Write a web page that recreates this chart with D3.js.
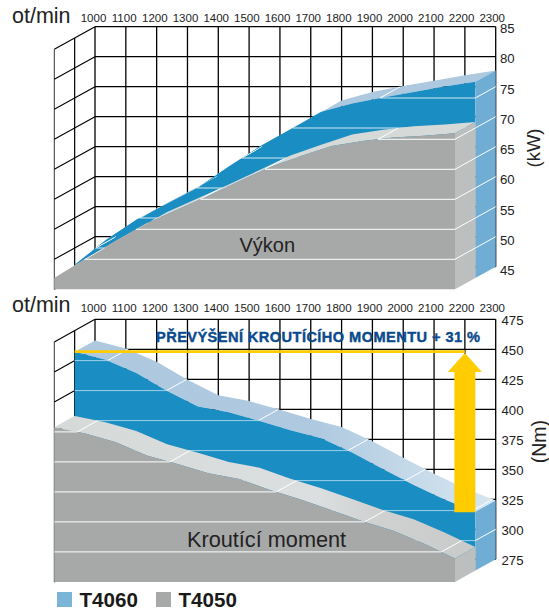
<!DOCTYPE html>
<html>
<head>
<meta charset="utf-8">
<script src="https://cdn.jsdelivr.net/npm/d3@7"></script>
<style>
html,body{margin:0;padding:0;background:#fff}
svg{display:block}
text{font-family:"Liberation Sans",Arial,sans-serif}
</style>
</head>
<body>
<div id="chart"></div>
<script>
const rpmTicks = [1000,1100,1200,1300,1400,1500,1600,1700,1800,1900,2000,2100,2200,2300];
const powerT4060 = [47.2,51.3,54.7,57.4,60.1,63.6,66.9,69.8,72.7,74.1,75.1,76,76.9,77.7];
const powerT4050 = [46.9,50.05,53.1,56,58.3,60.6,63,65.4,67.2,68.9,69.7,70.3,70.6,71];
const torqueT4060 = [457.4,450.7,439.6,424.7,411.7,406.9,399.7,391.9,385.2,373.4,359.7,346.3,334.3,324];
const torqueT4050 = [403.8,398.7,391.3,380.3,373.2,365.5,360.7,351.6,343.7,334.7,325.5,317.7,306.8,294.6];
const powerTicks = [85,80,75,70,65,60,55,50,45];
const torqueTicks = [475,450,425,400,375,350,325,300,275];
const seriesNames = ["T4060","T4050"];
const rpmTitle = "ot/min";
const powerTitle = "Výkon";
const torqueTitle = "Kroutící moment";
const powerUnit = "(kW)";
const torqueUnit = "(Nm)";
const overTorqueLabel = "PŘEVÝŠENÍ KROUTÍCÍHO MOMENTU + 31 %";

const C = {
  blue:"#1a8dc2", blueSide:"#6fadd4", blueTop:"#adc8df",
  gray:"#a7a9a9", grayTop:"#d5d9d8", graySide:"#bdbfbe",
  legendBlue:"#7ab5d8", yellow:"#ffcc00", ink:"#222", title:"#0b4a8c"
};
const DX = 20.35, DY = 11.3;

const svg = d3.select("#chart").append("svg").attr("width",549).attr("height",611);
const defs = svg.append("defs");
function gradient(id, stops){
  const g = defs.append("linearGradient").attr("id",id)
    .attr("gradientUnits","userSpaceOnUse").attr("x1",54).attr("x2",496).attr("y1",0).attr("y2",0);
  stops.forEach(s=>g.append("stop").attr("offset",s[0]).attr("stop-color",s[1]));
  return `url(#${id})`;
}
const blueTopFill = gradient("bt",[[0,"#adc8df"],[0.6,"#afcae0"],[1,"#d8e7f1"]]);
const grayTopFill = gradient("gt",[[0,"#d5d9d8"],[0.6,"#dcdfdf"],[0.72,"#cfd2d1"],[1,"#c6c9c8"]]);
let clipCount = 0;

function panel(o){
  const g = svg.append("g");
  const x = d3.scaleLinear().domain([1000,2300]).range([95,495.7]);
  const y = d3.scaleLinear().domain([o.ticks[0],o.ticks[o.ticks.length-1]]).range([o.top,o.top+240]);
  const px = (r,d)=>x(r)-DX*d, py = (v,d)=>y(v)+DY*d;
  const vMin = y.domain()[1], rMin = 1000, rMax = 2300;
  const line = d3.line();

  const wall = g.append("g").attr("fill","none").attr("stroke","#000");
  wall.selectAll(".h").data(o.ticks).join("line")
    .attr("x1",x(rMin)).attr("x2",x(rMax)).attr("y1",d=>y(d)).attr("y2",d=>y(d)).attr("stroke-width",1.2);
  wall.selectAll(".v").data(rpmTicks).join("line")
    .attr("x1",d=>x(d)).attr("x2",d=>x(d)).attr("y1",y(o.ticks[0])).attr("y2",y(vMin)).attr("stroke-width",1.3);
  wall.selectAll(".s").data(o.ticks).join("line")
    .attr("x1",x(rMin)).attr("y1",d=>y(d)).attr("x2",px(rMin,2)).attr("y2",d=>py(d,2)).attr("stroke-width",1.1);
  wall.selectAll(".d").data([1,2]).join("line")
    .attr("x1",d=>px(rMin,d)).attr("x2",d=>px(rMin,d))
    .attr("y1",d=>py(o.ticks[0],d)).attr("y2",d=>py(vMin,d))
    .attr("stroke-width",d=>d==1?1.2:0.8);

  function solid(vals, d, cols){
    const prof = rpmTicks.map((r,i)=>[r,vals[i]]);
    const front = prof.map(p=>[px(p[0],d),py(p[1],d)]);
    const back = prof.map(p=>[px(p[0],d-1),py(p[1],d-1)]);
    const end = vals[vals.length-1];
    const topD = line(front.concat(back.slice().reverse()))+"Z";
    const clipId = "top"+(clipCount++);
    defs.append("clipPath").attr("id",clipId).append("path").attr("d",topD);
    g.append("path").attr("fill",cols.top).attr("d",topD);
    g.append("path").attr("fill",cols.face)
      .attr("d",line(front.concat([[px(rMax,d),py(vMin,d)],[px(rMin,d),py(vMin,d)]]))+"Z");
    g.append("path").attr("fill",cols.side)
      .attr("d",line([[px(rMax,d),py(end,d)],[px(rMax,d-1),py(end,d-1)],[px(rMax,d-1),py(vMin,d-1)],[px(rMax,d),py(vMin,d)]])+"Z");
    const rising = vals[vals.length-1] > vals[0];
    o.ticks.slice(1,-1).forEach(level=>{
      let cross = null;
      for(let i=0;i<vals.length-1;i++){
        const a=vals[i], b=vals[i+1];
        if((a-level)*(b-level)<=0 && a!==b){
          cross = rpmTicks[i]+(level-a)/(b-a)*(rpmTicks[i+1]-rpmTicks[i]);
          break;
        }
      }
      const seg = (a,b,col,w)=>g.append("path").attr("fill","none").attr("stroke",col)
        .attr("stroke-width",w).attr("d",line([a,b]));
      if(cross!==null){
        const from = rising?cross:rMin, to = rising?rMax:cross;
        seg([px(from,d),py(level,d)],[px(to,d),py(level,d)],cols.line,cols.lineW);
        seg([px(cross,d),py(level,d)],[px(cross,d-1),py(level,d-1)],"#fff",1)
          .attr("clip-path",`url(#${clipId})`);
      } else if(level<Math.min(...vals)){
        seg([px(rMin,d),py(level,d)],[px(rMax,d),py(level,d)],cols.line,cols.lineW);
      }
      if(level<end){
        seg([px(rMax,d),py(level,d)],[px(rMax,d-1),py(level,d-1)],"#fff",1);
      }
    });
  }
  solid(o.upper,1,{top:o.upperTop,face:C.blue,side:C.blueSide,line:o.blueLine,lineW:1});
  solid(o.lower,2,{top:o.lowerTop,face:C.gray,side:C.graySide,line:"#fff",lineW:1});

  if(o.annotate) o.annotate({g,px,py,x,y});

  const rpmLabel = d3.scaleLinear().domain([1000,2300]).range([93,491.7]);
  const topAxis = d3.axisTop(rpmLabel).tickValues(rpmTicks).tickSize(0).tickPadding(0).tickFormat(d3.format("d"));
  const ta = g.append("g").attr("transform",`translate(0,${o.rpmY})`).call(topAxis);
  ta.select(".domain").remove();
  ta.selectAll("text").attr("font-size",11.5).attr("fill",C.ink).attr("dy",0).attr("font-family","Liberation Sans");

  const lab = d3.scaleLinear().domain(o.labelDomain).range(o.labelRange);
  const ra = g.append("g").attr("transform",`translate(${o.labelX},0)`)
    .call(d3.axisRight(lab).tickValues(o.ticks).tickSize(0).tickPadding(0));
  ra.select(".domain").remove();
  ra.selectAll("text").attr("font-size",13.2).attr("fill",C.ink).attr("font-family","Liberation Sans");

  g.append("text").attr("x",12).attr("y",o.titleY).attr("font-size",21.5).attr("fill",C.ink).text(rpmTitle);
  g.append("text").attr("x",o.nameX).attr("y",o.nameY).attr("font-size",o.nameSize).attr("fill",C.ink).text(o.name);
  g.append("text").attr("transform",`translate(${o.unitX},${o.unitY}) rotate(-90)`)
    .attr("text-anchor","middle").attr("font-size",o.unitSize).attr("fill",C.ink).text(o.unit);
}

panel({
  top:26.7, ticks:powerTicks, upper:powerT4060, lower:powerT4050,
  upperTop:C.blueTop, lowerTop:C.grayTop, blueLine:"#d4e8f3",
  rpmY:22, labelX:500, labelDomain:[85,45], labelRange:[28.3,270.5],
  titleY:22.7, name:powerTitle, nameX:239.5, nameY:251.7, nameSize:20,
  unit:powerUnit, unitX:539.5, unitY:148, unitSize:18.5
});

panel({
  top:319.3, ticks:torqueTicks, upper:torqueT4060, lower:torqueT4050,
  upperTop:blueTopFill, lowerTop:grayTopFill, blueLine:"#9fd0e8",
  rpmY:311.5, labelX:501.5, labelDomain:[475,275], labelRange:[320,560],
  titleY:311.7, name:torqueTitle, nameX:187, nameY:546.7, nameSize:21.7,
  unit:torqueUnit, unitX:546, unitY:441.7, unitSize:19.5,
  annotate:({g,px,py,x})=>{
    const peak = d3.max(torqueT4060), end = torqueT4060[torqueT4060.length-1];
    const ax = x(2200), yTip = py(peak,1)+1.2, yHead = yTip+19, yBase = py(end,1)+0.5;
    g.append("path").attr("fill","none").attr("stroke",C.yellow).attr("stroke-width",2.8)
      .attr("d",d3.line()([[px(1000,1),py(peak,1)],[ax,py(peak,1)]]));
    g.append("path").attr("fill",C.yellow)
      .attr("d",d3.line()([[ax,yTip],[ax+17,yHead],[ax+10.5,yHead],[ax+10.5,yBase],[ax-10.5,yBase],[ax-10.5,yHead],[ax-17,yHead]])+"Z");
    g.append("text").attr("x",156).attr("y",341.7).attr("font-size",14.6).attr("font-weight","bold")
      .attr("fill",C.title).attr("stroke",C.title).attr("stroke-width",0.4)
      .attr("textLength",324).attr("lengthAdjust","spacing").text(overTorqueLabel);
  }
});

const legend = svg.append("g");
const legendX = d3.scaleOrdinal().domain(seriesNames).range([57,156]);
const legendCol = d3.scaleOrdinal().domain(seriesNames).range([C.legendBlue,C.gray]);
seriesNames.forEach(n=>{
  legend.append("rect").attr("x",legendX(n)).attr("y",592).attr("width",15).attr("height",15).attr("fill",legendCol(n));
  legend.append("text").attr("x",legendX(n)+22.5).attr("y",606.5).attr("font-size",20.6).attr("font-weight","bold")
    .attr("fill","#1a1a1a").text(n);
});
</script>
</body>
</html>
